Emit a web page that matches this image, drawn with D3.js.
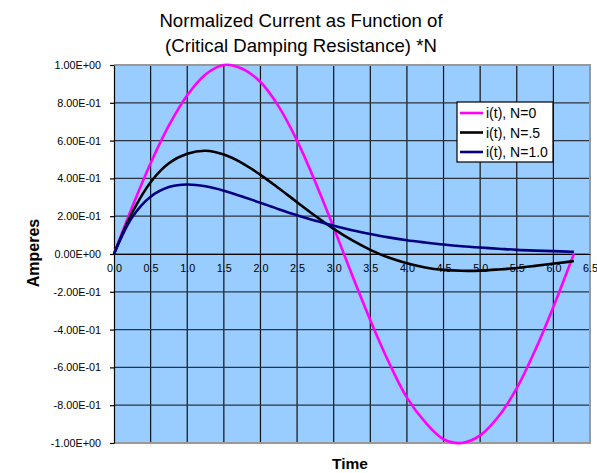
<!DOCTYPE html>
<html>
<head>
<meta charset="utf-8">
<script src="https://cdn.jsdelivr.net/npm/d3@7"></script>
<style>
  body { margin: 0; background: #fff; }
  text { font-family: "Liberation Sans", Arial, sans-serif; }
</style>
</head>
<body>
<div id="chart"></div>
<script>
const times = [0, 0.25, 0.5, 0.75, 1.0, 1.25, 1.5, 1.75, 2.0, 2.25, 2.5, 2.75, 3.0, 3.25,
  3.5, 3.75, 4.0, 4.25, 4.5, 4.75, 5.0, 5.25, 5.5, 5.75, 6.0, 6.25, 6.28];
const currentN0 = [0, 0.25, 0.48, 0.68, 0.84, 0.95, 1.00, 0.98, 0.91, 0.78, 0.60, 0.38, 0.14,
  -0.11, -0.35, -0.57, -0.76, -0.89, -0.98, -1.00, -0.96, -0.86, -0.71, -0.51, -0.28, -0.03, 0.0];
const currentN05 = [0, 0.22, 0.38, 0.48, 0.53, 0.546, 0.526, 0.481, 0.419, 0.348, 0.274, 0.201,
  0.133, 0.073, 0.022, -0.019, -0.049, -0.071, -0.084, -0.089, -0.088, -0.082, -0.074, -0.063,
  -0.051, -0.039, -0.037];
const currentN1 = [0, 0.195, 0.303, 0.354, 0.368, 0.358, 0.335, 0.304, 0.271, 0.237, 0.205,
  0.176, 0.149, 0.126, 0.106, 0.088, 0.073, 0.061, 0.050, 0.041, 0.034, 0.028, 0.022, 0.018,
  0.015, 0.012, 0.012];
const seriesNames = ["i(t), N=0", "i(t), N=.5", "i(t), N=1.0"];
const seriesColors = ["#ff00ff", "#000000", "#000080"];
const xTicks = [0, 0.5, 1, 1.5, 2, 2.5, 3, 3.5, 4, 4.5, 5, 5.5, 6, 6.5];
const yTicks = [-1, -0.8, -0.6, -0.4, -0.2, 0, 0.2, 0.4, 0.6, 0.8, 1];

const W = 597, H = 473;
const margin = { top: 65, right: 7, bottom: 30, left: 114 };
const width = W - margin.left - margin.right;
const height = H - margin.top - margin.bottom;

const svg = d3.select("#chart").append("svg")
  .attr("width", W).attr("height", H);

const g = svg.append("g").attr("transform", `translate(${margin.left},${margin.top})`);

const x = d3.scaleLinear().domain([0, 6.5]).range([0, width]);
const y = d3.scaleLinear().domain([-1, 1]).range([height, 0]);

// plot background
g.append("rect").attr("width", width).attr("height", height).attr("fill", "#99ccff");

// gridlines
g.selectAll(".vgrid").data(xTicks.slice(1, -1)).join("line")
  .attr("x1", d => x(d)).attr("x2", d => x(d))
  .attr("y1", 0).attr("y2", height)
  .attr("stroke", "#111").attr("stroke-width", 1.2);
g.selectAll(".hgrid").data(yTicks.slice(1, -1)).join("line")
  .attr("x1", 0).attr("x2", width)
  .attr("y1", d => y(d)).attr("y2", d => y(d))
  .attr("stroke", "#2a3440").attr("stroke-width", 1.2);

// gray border top/right/bottom
g.append("path")
  .attr("d", `M0,0H${width}V${height}H0`)
  .attr("fill", "none").attr("stroke", "#999").attr("stroke-width", 2);

// y axis
const yAxis = g.append("g")
  .call(d3.axisLeft(y).tickValues(yTicks).tickSize(4).tickSizeOuter(0)
    .tickFormat(d => d.toExponential(2).replace(/e([+-])(\d)$/, "E$10$2").replace("e", "E")));
yAxis.select(".domain").attr("stroke", "#000").attr("stroke-width", 1.2);
yAxis.selectAll(".tick line").attr("stroke", "#000").attr("stroke-width", 1.2);
yAxis.selectAll("text").attr("font-size", 10.8).attr("fill", "#000")
  .attr("font-family", "Liberation Sans, Arial, sans-serif").attr("x", -13);

// x axis at y = 0
const xAxis = g.append("g").attr("transform", `translate(0,${y(0)})`)
  .call(d3.axisBottom(x).tickValues(xTicks).tickSize(0).tickSizeOuter(0)
    .tickFormat(d3.format(".1f")));
xAxis.select(".domain").attr("stroke", "#000").attr("stroke-width", 1.2);
xAxis.selectAll("text").attr("font-size", 10.8).attr("fill", "#000")
  .attr("font-family", "Liberation Sans, Arial, sans-serif").attr("y", 10);

// curves
const allSeries = [currentN0, currentN05, currentN1];
const line = d3.line().curve(d3.curveCatmullRom)
  .x((d, i) => x(times[i])).y(d => y(d));
allSeries.forEach((s, k) => {
  g.append("path").datum(s)
    .attr("d", line)
    .attr("fill", "none")
    .attr("stroke", seriesColors[k])
    .attr("stroke-width", 2.6);
});

// legend
const lg = svg.append("g").attr("transform", "translate(457,102)");
lg.append("rect").attr("width", 96).attr("height", 60)
  .attr("fill", "#fff").attr("stroke", "#000").attr("stroke-width", 1.2);
seriesNames.forEach((name, k) => {
  const yy = 11 + k * 19.5;
  lg.append("line").attr("x1", 3).attr("x2", 26).attr("y1", yy).attr("y2", yy)
    .attr("stroke", seriesColors[k]).attr("stroke-width", 2.6);
  lg.append("text").attr("x", 29).attr("y", yy + 5)
    .attr("font-size", 14).text(name);
});

// titles
svg.append("text").attr("x", 301).attr("y", 27).attr("text-anchor", "middle")
  .attr("font-size", 18.6).text("Normalized Current as Function of");
svg.append("text").attr("x", 301).attr("y", 52).attr("text-anchor", "middle")
  .attr("font-size", 18.6).text("(Critical Damping Resistance) *N");

svg.append("text").attr("x", 350).attr("y", 469).attr("text-anchor", "middle")
  .attr("font-size", 15.5).attr("font-weight", "bold").text("Time");
svg.append("text")
  .attr("transform", `translate(39,253) rotate(-90)`)
  .attr("text-anchor", "middle")
  .attr("font-size", 16).attr("font-weight", "bold").text("Amperes");
</script>
</body>
</html>
